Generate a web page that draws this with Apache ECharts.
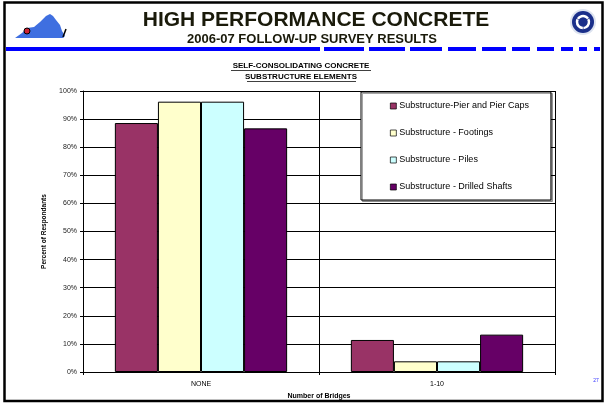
<!DOCTYPE html>
<html>
<head>
<meta charset="utf-8">
<script src="https://cdn.jsdelivr.net/npm/echarts@6/dist/echarts.min.js"></script>
<style>
  * { margin: 0; padding: 0; }
  html, body { width: 605px; height: 403px; background: #fff; }
  #chart { width: 605px; height: 403px; }
</style>
</head>
<body>
<div id="chart"></div>
<script>
// data
const categories = ['NONE', '1-10']
const pierCaps = [88.6, 11.4]
const footings = [96.2, 3.8]
const piles = [96.2, 3.8]
const drilledShafts = [86.7, 13.3]
const seriesNames = [
  'Substructure-Pier and Pier Caps',
  'Substructure - Footings',
  'Substructure - Piles',
  'Substructure - Drilled Shafts'
]
const seriesColors = ['#993366', '#FFFFCC', '#CCFFFF', '#660066']

// header dashes (decoration)
const dashes = [[324, 364], [369, 405], [410, 442], [448, 476], [482, 506],
  [512, 530], [537, 554], [561, 573], [579, 587], [594, 600]]

const font = 'Arial, "Liberation Sans", sans-serif'

const bar = (name, data, color) => ({
  name: name,
  type: 'bar',
  data: data,
  barGap: '0%',
  barCategoryGap: '27%',
  itemStyle: { color: color, borderColor: '#000', borderWidth: 1 }
})

const graphics = [
  // slide frame
  { type: 'rect', shape: { x: 4.5, y: 2.5, width: 598, height: 398.5 },
    style: { fill: 'none', stroke: '#000', lineWidth: 2.5 }, z: 100 },
  // blue rule
  { type: 'rect', shape: { x: 6, y: 47, width: 314, height: 4 }, style: { fill: '#0000ff' } },
  ...dashes.map(d => ({ type: 'rect', shape: { x: d[0], y: 47, width: d[1] - d[0], height: 4 }, style: { fill: '#0000ff' } })),
  // headings
  { type: 'text', x: 316, y: 20, style: { text: 'HIGH PERFORMANCE CONCRETE', font: 'bold 21px ' + font,
    fill: '#1a1a0a', align: 'center', verticalAlign: 'middle' } },
  { type: 'text', x: 312, y: 39, style: { text: '2006-07 FOLLOW-UP SURVEY RESULTS', font: 'bold 13px ' + font,
    fill: '#1a1a0a', align: 'center', verticalAlign: 'middle' } },
  { type: 'text', x: 301, y: 66, style: { text: 'SELF-CONSOLIDATING CONCRETE', font: 'bold 8px ' + font,
    fill: '#000', align: 'center', verticalAlign: 'middle' } },
  { type: 'text', x: 301, y: 77, style: { text: 'SUBSTRUCTURE ELEMENTS', font: 'bold 8px ' + font,
    fill: '#000', align: 'center', verticalAlign: 'middle' } },
  { type: 'rect', shape: { x: 231, y: 70, width: 140, height: 0.8 }, style: { fill: '#000' } },
  { type: 'rect', shape: { x: 247, y: 81, width: 109, height: 0.8 }, style: { fill: '#000' } },
  // page number
  { type: 'text', x: 596, y: 381, style: { text: '27', font: '5px ' + font, fill: '#3333ff',
    align: 'center', verticalAlign: 'middle' } },
  // Virginia outline logo
  { type: 'polygon', shape: { points: [[15, 38], [22, 33], [27, 28], [34, 27], [40, 22], [46, 16], [50, 14],
    [53, 16], [56, 20], [60, 25], [62, 31], [65, 36], [63, 38]] }, style: { fill: '#3f6fe0' } },
  { type: 'circle', shape: { cx: 27, cy: 31, r: 3 }, style: { fill: '#cc2233', stroke: '#000', lineWidth: 1 } },
  { type: 'line', shape: { x1: 63, y1: 37, x2: 66, y2: 29 }, style: { stroke: '#000', lineWidth: 1.5 } },
  // DOT logo
  { type: 'circle', shape: { cx: 583, cy: 22, r: 13 }, style: { fill: '#dde3f0' } },
  { type: 'circle', shape: { cx: 583, cy: 22, r: 11 }, style: { fill: '#1a2f8a' } },
  { type: 'arc', shape: { cx: 583, cy: 22, r: 6, startAngle: -2.6, endAngle: -0.6 }, style: { stroke: '#fff', lineWidth: 2.5, fill: 'none' } },
  { type: 'arc', shape: { cx: 583, cy: 22, r: 6, startAngle: -0.5, endAngle: 1.5 }, style: { stroke: '#fff', lineWidth: 2.5, fill: 'none' } },
  { type: 'arc', shape: { cx: 583, cy: 22, r: 6, startAngle: 1.6, endAngle: 3.6 }, style: { stroke: '#fff', lineWidth: 2.5, fill: 'none' } }
]

const chart = echarts.init(document.getElementById('chart'), null, { renderer: 'canvas' })
chart.setOption({
  animation: false,
  backgroundColor: '#fff',
  textStyle: { fontFamily: font },
  grid: { left: 83, right: 50, top: 91, bottom: 31, outerBoundsMode: 'none' },
  legend: {
    orient: 'vertical',
    left: 361,
    top: 92,
    padding: [9, 22, 8, 29],
    backgroundColor: '#fff',
    borderColor: '#000',
    borderWidth: 1,
    shadowColor: 'rgba(0,0,0,0.35)',
    shadowOffsetX: 1.5,
    shadowOffsetY: 1.5,
    shadowBlur: 0,
    icon: 'rect',
    itemWidth: 6,
    itemHeight: 6,
    itemGap: 17,
    itemStyle: { borderWidth: 0.7, borderColor: '#000' },
    textStyle: { fontSize: 9, color: '#000', lineHeight: 10, padding: [0, 0, 0, -2] },
    data: seriesNames
  },
  xAxis: {
    type: 'category',
    data: categories,
    name: 'Number of Bridges',
    nameLocation: 'middle',
    nameGap: 21,
    nameTextStyle: { fontSize: 7, fontWeight: 'bold', color: '#000' },
    axisLine: { lineStyle: { color: '#000', width: 1 } },
    axisTick: { show: true, length: 3, inside: false, lineStyle: { color: '#000' } },
    axisLabel: { fontSize: 7, color: '#000', margin: 9 },
    splitLine: { show: true, lineStyle: { color: '#000', width: 1 } }
  },
  yAxis: {
    type: 'value',
    min: 0,
    max: 100,
    interval: 10,
    name: 'Percent of Respondants',
    nameLocation: 'middle',
    nameRotate: 90,
    nameGap: 30,
    nameTextStyle: { fontSize: 6.5, fontWeight: 'bold', color: '#000' },
    axisLine: { show: true, lineStyle: { color: '#000', width: 1 } },
    axisTick: { show: true, length: 3, lineStyle: { color: '#000' } },
    axisLabel: { fontSize: 7, color: '#222', margin: 6, formatter: '{value}%' },
    splitLine: { show: true, lineStyle: { color: '#000', width: 1 } }
  },
  series: [
    bar(seriesNames[0], pierCaps, seriesColors[0]),
    bar(seriesNames[1], footings, seriesColors[1]),
    bar(seriesNames[2], piles, seriesColors[2]),
    bar(seriesNames[3], drilledShafts, seriesColors[3])
  ],
  graphic: graphics
})
</script>
</body>
</html>
